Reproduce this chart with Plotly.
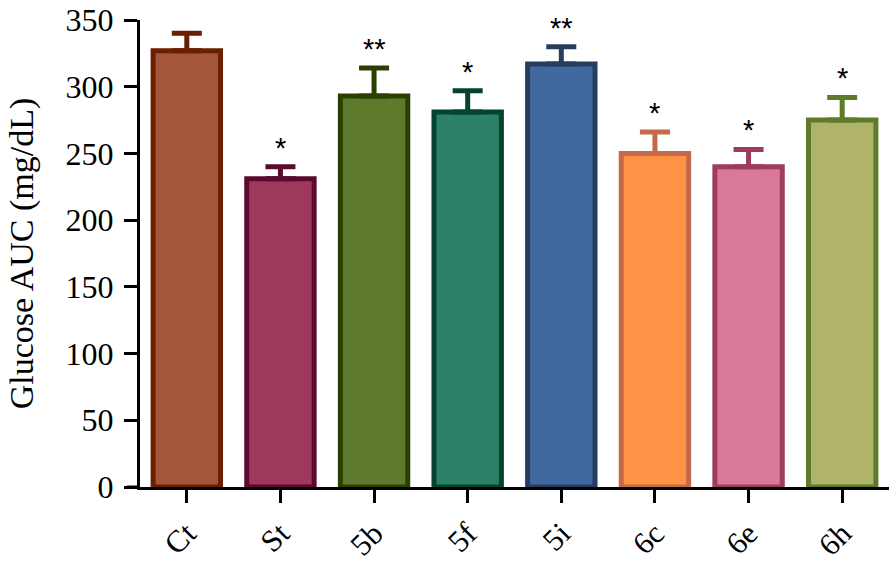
import plotly.graph_objs as go

# data
groups = ['Ct', 'St', '5b', '5f', '5i', '6c', '6e', '6h']
auc_mean = [327, 231, 293, 281, 317, 250, 240, 275]
auc_err = [13, 9, 21, 16, 13, 16, 13, 17]
signif = ['', '*', '**', '*', '**', '*', '*', '*']

fill_colors = ['#A3563B', '#9E385D', '#607A2D', '#2D8068', '#4268A0',
               '#FF9345', '#D9799A', '#AFB46A']
line_colors = ['#6A1F00', '#5A0A2E', '#2A4000', '#054230', '#263D60',
               '#C4694A', '#A03B60', '#5E7A2A']

FONT = 'Liberation Serif'

traces = []
for g, m, e, fc, lc in zip(groups, auc_mean, auc_err, fill_colors, line_colors):
    traces.append(
        go.Bar(
            x=[g], y=[m],
            width=0.72,
            marker=dict(color=fc, line=dict(color=lc, width=5)),
            error_y=dict(type='data', array=[e], arrayminus=[0], symmetric=False,
                         color=lc, thickness=5, width=15),
            showlegend=False))

layout = go.Layout(
    width=894, height=562,
    margin=dict(l=140, r=5, t=20, b=75),
    paper_bgcolor='white',
    plot_bgcolor='white',
    barmode='overlay',
    font=dict(family=FONT, color='black', size=30),
    xaxis=dict(
        range=[-0.5, 7.5],
        showline=True, linecolor='black', linewidth=3,
        ticks='outside', ticklen=13, tickwidth=3, tickcolor='black',
        tickangle=-45,
        tickfont=dict(size=31, family=FONT),
        showgrid=False, zeroline=False,
        automargin=False,
    ),
    yaxis=dict(
        title=dict(text='Glucose AUC (mg/dL)', font=dict(size=34, family=FONT), standoff=22),
        range=[0, 350], dtick=50,
        showline=True, linecolor='black', linewidth=3,
        ticks='outside', ticklen=13, tickwidth=3, tickcolor='black',
        tickfont=dict(size=32, family=FONT),
        ticklabelstandoff=4,
        showgrid=False, zeroline=False,
        automargin=False,
    ),
)

fig = go.Figure(data=traces, layout=layout)

# significance stars above the error bars
for g, m, e, s in zip(groups, auc_mean, auc_err, signif):
    if s:
        fig.add_annotation(x=g, y=m + e, text=s, showarrow=False,
                           yanchor='middle', yshift=19, borderpad=0,
                           font=dict(family='Liberation Sans', size=29, color='black'))

# x axis line runs out to the start of the y ticks
fig.add_shape(type='line', xref='paper', yref='y', x0=-13 / 749, x1=0, y0=0, y1=0,
              line=dict(color='black', width=3))

# drop the default body margin so the figure fills the window exactly
fig.write_html("out.html", config={'displayModeBar': False},
               post_script="document.body.style.margin='0';")
